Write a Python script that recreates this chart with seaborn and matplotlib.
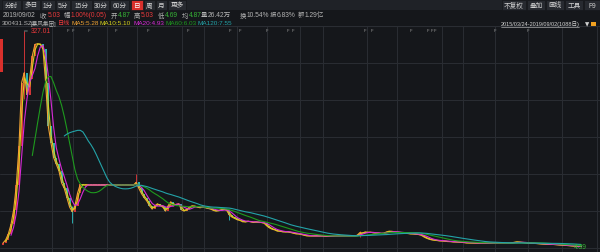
import numpy as np
import pandas as pd
import matplotlib
matplotlib.use('Agg')
import matplotlib.pyplot as plt
import seaborn as sns
from matplotlib.patches import Rectangle

# ---------------- data (weekly closes, 5 trading days per point) ----------------
close = [
    10.3, 15, 24, 38, 60, 97, 155, 250, 265, 232,
    255, 290, 307, 308, 307, 300, 250, 185, 160, 138,
    128, 118, 100, 92, 78, 64, 57, 66, 85, 98,
    97, 97, 97, 97, 97, 97, 97, 97, 97, 97,
    97, 97, 97, 97, 97, 97, 97, 97, 97, 97,
    101, 92, 84, 78, 73, 66, 61, 66, 69, 66,
    64, 58, 66, 72, 66, 68, 69, 60, 58, 61,
    64, 66, 65, 64, 63, 64, 63, 62, 61, 59,
    58, 59, 60, 61, 59, 52, 49, 47, 45, 44,
    42, 42, 43, 42, 41, 42, 41, 41, 40, 36,
    33, 31, 30, 28, 28, 27, 27, 27, 26, 25,
    24, 24, 23, 22, 21, 21, 21, 21, 21, 21,
    21, 20.5, 20.5, 20.5, 20.5, 20.5, 20.5, 20.5, 20.5, 20.5,
    20.5, 20.8, 21, 22, 26, 25, 27, 26, 26.5, 25.5,
    25, 25, 24.5, 25, 27, 28, 27.5, 27, 26.5, 26,
    25.5, 25, 24.5, 24, 24, 23.5, 23, 22, 19.5, 17.5,
    16, 15, 14.5, 14, 13.5, 13.5, 13, 12.5, 12.5, 12,
    12, 11.8, 11.5, 11, 10.5, 10.5, 10.5, 10.3, 10.3, 10.5,
    10.2, 10.2, 10, 10, 10.2, 10, 10, 10, 9.8, 9.8,
    10, 10.5, 11.5, 12, 11.5, 11, 10.8, 10.5, 10.2, 10,
    9.5, 9.3, 9, 8.8, 8.5, 8.3, 8.5, 8, 7.7, 7.5,
    7.2, 7, 6.5, 6.2, 5.8, 5.5, 5.2, 5.03,
]
ipo_open = 7.14
wick_week = [8, 26, 50, 85, 134, 216]
wick_high = [327.01, 66, 113, 60, 28, 5.6]
wick_low = [225, 40, 95, 45, 20, 4.39]

ma_names = ['MA5', 'MA10', 'MA20', 'MA60', 'MA120']
ma_weeks = [1, 2, 4, 12, 24]
ma_last = ['5.28', '5.10', '4.93', '6.03', '7.55']

quote_labels = ['收', '幅', '开', '高', '低', '均', '量', '换', '振', '额']
quote_values = ['5.03', '1.00%(0.05)', '4.87', '5.03', '4.69', '4.87', '26.42万', '10.54%', '6.83%', '1.29亿']
period_buttons = ['分时', '多日', '1分', '5分', '15分', '30分', '60分', '日', '周', '月', '更多']
tool_buttons = ['不复权', '叠加', '画线', '工具', 'F9']

# ---------------- style ----------------
sns.set_theme(style='dark')
FAM = ['Liberation Sans', 'Noto Sans CJK SC', 'DejaVu Sans']
plt.rcParams['font.family'] = FAM

BG = '#15171b'
GRID = '#2a2d33'
RED = '#e8393b'
CYAN = '#2cc2c2'
GREEN = '#36b336'
GREY = '#b4b4b4'
MA_COLORS = ['#f0a232', '#d6d21c', '#d62ad6', '#1e9a1e', '#23a3a8']

W, H = 600, 253
fig = plt.figure(figsize=(6, 2.53), dpi=100, facecolor=BG)

def fx(px):
    return px / W

def fy(py):
    return 1 - py / H

ax = fig.add_axes([0, 0, 1, (H - 27) / H])
ax.set_facecolor(BG)

s = pd.Series(close, dtype=float)
day = np.arange(len(s)) * 5
px_per_day = 0.5327
ax.set_xlim(-3 / px_per_day, (W - 3) / px_per_day)
ax.set_ylim(4.39 - 5 * 1.4936, 4.39 + 221 * 1.4936)

# grid
for py in [64, 101, 138, 175, 212, 249]:
    f = (H - py) / (H - 27)
    ax.plot([0, 1], [f, f], transform=ax.transAxes, color=GRID, lw=0.7, zorder=0)
for px in [52, 73, 107, 137, 182, 204, 237, 267, 300, 323, 367, 397, 442, 463, 495, 528, 562, 597]:
    ax.axvline((px - 3) / px_per_day, color=GRID, lw=0.7, zorder=0)

# candles (open = previous close)
opens = np.r_[ipo_open, s.values[:-1]]
up = s.values >= opens
lo = np.minimum(opens, s.values)
hi = np.maximum(opens, s.values)
hi = np.where(hi - lo < 0.8, lo + 0.8, hi)
ax.vlines(day, lo, hi, colors=np.where(up, RED, CYAN), lw=1.3, zorder=2)
wd = day[wick_week]
ax.vlines(wd, wick_low, wick_high,
          colors=[RED if up[k] else CYAN for k in wick_week], lw=0.6, zorder=2)

# moving averages
for name, w, c in zip(ma_names, ma_weeks, MA_COLORS):
    m = s.rolling(w).mean()
    sns.lineplot(x=day, y=m.values, ax=ax, color=c, lw=0.8, zorder=3)

ax.set_xticks([])
ax.set_yticks([])
for sp in ax.spines.values():
    sp.set_visible(False)
ax.plot([0, 1], [1, 1], transform=ax.transAxes, color=GRID, lw=0.8)

# max / min labels
ax.annotate('327.01', xy=(day[8], 327.01), xytext=(day[8] + 12, 327.01),
            color=RED, fontsize=4.8, va='center', ha='left',
            arrowprops=dict(arrowstyle='-', color='#8fb0b0', lw=0.5, shrinkA=0, shrinkB=0))
ax.annotate('4.39', xy=(day[216], 4.39), xytext=(day[216] - 8, 4.39),
            color=GREEN, fontsize=4.8, va='center', ha='left')

# ---------------- header ----------------
fig.patches.append(Rectangle((0, fy(11)), 1, 11 / H, transform=fig.transFigure,
                             facecolor='#1f2227', edgecolor='none'))
btn_edges = [(2, 21), (22, 40), (41, 55), (56, 70), (71, 92), (93, 109), (110, 129),
             (131, 143), (144, 155), (156, 167), (168, 186)]
for lab, (a, b) in zip(period_buttons, btn_edges):
    col = '#d9302c' if lab == '日' else '#272a30'
    fig.patches.append(Rectangle((fx(a), fy(10.5)), fx(b - a), 9.5 / H,
                                 transform=fig.transFigure, facecolor=col, edgecolor='#15171b', lw=0.5))
    fig.text(fx((a + b) / 2), fy(6), lab, color='white' if lab == '日' else '#d0d0d0',
             fontsize=4.8, ha='center', va='center')
tool_edges = [(502, 526), (527, 545), (546, 564), (565, 583), (584, 600)]
for lab, (a, b) in zip(tool_buttons, tool_edges):
    fig.patches.append(Rectangle((fx(a), fy(10.5)), fx(b - a), 9.5 / H,
                                 transform=fig.transFigure, facecolor='#272a30', edgecolor='#15171b', lw=0.5))
    fig.text(fx((a + b) / 2), fy(6), lab, color='#d0d0d0', fontsize=4.8, ha='center', va='center')

# quote row
fig.text(fx(3), fy(15.5), '2019/09/02', color=GREY, fontsize=4.8, va='center')
q_lab_x = [40, 64, 111, 134, 158, 182, 201, 240, 270, 298]
q_val_x = [48, 71, 118, 141, 165, 189, 208, 247, 277, 305]
q_col = [RED, RED, GREEN, RED, GREEN, GREEN, GREY, GREY, GREY, GREY]
for lab, val, lx, vx, c in zip(quote_labels, quote_values, q_lab_x, q_val_x, q_col):
    fig.text(fx(lx), fy(15.5), lab, color=GREY, fontsize=4.6, va='center')
    fig.text(fx(vx), fy(15.5), val, color=c, fontsize=4.8, va='center')

# MA legend row
fig.text(fx(2), fy(23.5), '300431.SZ', color=GREY, fontsize=4.5, va='center')
fig.text(fx(31), fy(23.5), '[暴风集团]', color=GREY, fontsize=4.1, va='center')
fig.text(fx(58), fy(23.5), '日线', color=RED, fontsize=4.4, va='center')
for name, val, c, x in zip(ma_names, ma_last, MA_COLORS, [71, 100, 133, 165, 197]):
    fig.text(fx(x), fy(23.5), f'{name}:{val}', color=c, fontsize=4.6, va='center')
fig.text(fx(501), fy(24.5), '2015/03/24-2019/09/02(1088日)', color='#d0d0d0', fontsize=4.0, va='center')
fig.lines.append(plt.Line2D([fx(501), fx(579)], [fy(28), fy(28)], transform=fig.transFigure,
                            color='#d0d0d0', lw=0.4))
fig.text(fx(585), fy(24.5), '▼', color='#d0d0d0', fontsize=4, va='center', family='DejaVu Sans')
fig.patches.append(Rectangle((fx(591), fy(27)), fx(5), 4 / H, transform=fig.transFigure,
                             facecolor='#f0a020', edgecolor='none'))

# event markers
for px in [68, 73, 89, 116, 148, 188, 230, 240, 267, 288, 293, 365, 372, 411, 428, 432, 435, 495, 528]:
    fig.text(fx(px), fy(30.5), 'F', color='#9a9a9a', fontsize=3, va='center', ha='center')

# left side tab
fig.patches.append(Rectangle((0, fy(73)), fx(3), 33 / H, transform=fig.transFigure,
                             facecolor='#d9302c', edgecolor='none'))

fig.savefig('out.png', dpi=100, facecolor=BG)
